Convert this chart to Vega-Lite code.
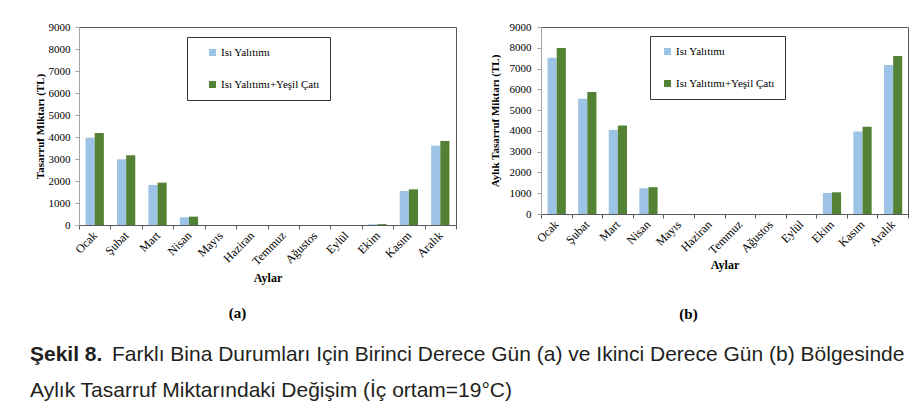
{
  "$schema": "https://vega.github.io/schema/vega-lite/v6.json",
  "padding": {"left": 30, "top": 20, "right": 0, "bottom": 0},
  "autosize": {"type": "pad"},
  "background": "white",
  "config": {
    "font": "Liberation Serif",
    "view": {"stroke": "#595959", "strokeWidth": 1},
    "axis": {"labelFont": "Liberation Serif", "titleFont": "Liberation Serif", "labelColor": "#000", "titleColor": "#000", "grid": false}
  },
  "datasets": {
    "d": [
      {"panel": "a", "month": "Ocak", "series": "Isı Yalıtımı", "value": 3970},
      {"panel": "a", "month": "Ocak", "series": "Isı Yalıtımı+Yeşil Çatı", "value": 4180},
      {"panel": "a", "month": "Şubat", "series": "Isı Yalıtımı", "value": 2985},
      {"panel": "a", "month": "Şubat", "series": "Isı Yalıtımı+Yeşil Çatı", "value": 3170},
      {"panel": "a", "month": "Mart", "series": "Isı Yalıtımı", "value": 1820},
      {"panel": "a", "month": "Mart", "series": "Isı Yalıtımı+Yeşil Çatı", "value": 1925},
      {"panel": "a", "month": "Nisan", "series": "Isı Yalıtımı", "value": 350},
      {"panel": "a", "month": "Nisan", "series": "Isı Yalıtımı+Yeşil Çatı", "value": 380},
      {"panel": "a", "month": "Mayıs", "series": "Isı Yalıtımı", "value": 0},
      {"panel": "a", "month": "Mayıs", "series": "Isı Yalıtımı+Yeşil Çatı", "value": 0},
      {"panel": "a", "month": "Haziran", "series": "Isı Yalıtımı", "value": 0},
      {"panel": "a", "month": "Haziran", "series": "Isı Yalıtımı+Yeşil Çatı", "value": 0},
      {"panel": "a", "month": "Temmuz", "series": "Isı Yalıtımı", "value": 0},
      {"panel": "a", "month": "Temmuz", "series": "Isı Yalıtımı+Yeşil Çatı", "value": 0},
      {"panel": "a", "month": "Ağustos", "series": "Isı Yalıtımı", "value": 0},
      {"panel": "a", "month": "Ağustos", "series": "Isı Yalıtımı+Yeşil Çatı", "value": 0},
      {"panel": "a", "month": "Eylül", "series": "Isı Yalıtımı", "value": 0},
      {"panel": "a", "month": "Eylül", "series": "Isı Yalıtımı+Yeşil Çatı", "value": 0},
      {"panel": "a", "month": "Ekim", "series": "Isı Yalıtımı", "value": 30},
      {"panel": "a", "month": "Ekim", "series": "Isı Yalıtımı+Yeşil Çatı", "value": 40},
      {"panel": "a", "month": "Kasım", "series": "Isı Yalıtımı", "value": 1545},
      {"panel": "a", "month": "Kasım", "series": "Isı Yalıtımı+Yeşil Çatı", "value": 1620},
      {"panel": "a", "month": "Aralık", "series": "Isı Yalıtımı", "value": 3605},
      {"panel": "a", "month": "Aralık", "series": "Isı Yalıtımı+Yeşil Çatı", "value": 3820},
      {"panel": "b", "month": "Ocak", "series": "Isı Yalıtımı", "value": 7520},
      {"panel": "b", "month": "Ocak", "series": "Isı Yalıtımı+Yeşil Çatı", "value": 7990},
      {"panel": "b", "month": "Şubat", "series": "Isı Yalıtımı", "value": 5545},
      {"panel": "b", "month": "Şubat", "series": "Isı Yalıtımı+Yeşil Çatı", "value": 5870},
      {"panel": "b", "month": "Mart", "series": "Isı Yalıtımı", "value": 4050},
      {"panel": "b", "month": "Mart", "series": "Isı Yalıtımı+Yeşil Çatı", "value": 4260},
      {"panel": "b", "month": "Nisan", "series": "Isı Yalıtımı", "value": 1240},
      {"panel": "b", "month": "Nisan", "series": "Isı Yalıtımı+Yeşil Çatı", "value": 1290},
      {"panel": "b", "month": "Mayıs", "series": "Isı Yalıtımı", "value": 0},
      {"panel": "b", "month": "Mayıs", "series": "Isı Yalıtımı+Yeşil Çatı", "value": 0},
      {"panel": "b", "month": "Haziran", "series": "Isı Yalıtımı", "value": 0},
      {"panel": "b", "month": "Haziran", "series": "Isı Yalıtımı+Yeşil Çatı", "value": 0},
      {"panel": "b", "month": "Temmuz", "series": "Isı Yalıtımı", "value": 0},
      {"panel": "b", "month": "Temmuz", "series": "Isı Yalıtımı+Yeşil Çatı", "value": 0},
      {"panel": "b", "month": "Ağustos", "series": "Isı Yalıtımı", "value": 0},
      {"panel": "b", "month": "Ağustos", "series": "Isı Yalıtımı+Yeşil Çatı", "value": 0},
      {"panel": "b", "month": "Eylül", "series": "Isı Yalıtımı", "value": 0},
      {"panel": "b", "month": "Eylül", "series": "Isı Yalıtımı+Yeşil Çatı", "value": 0},
      {"panel": "b", "month": "Ekim", "series": "Isı Yalıtımı", "value": 1010},
      {"panel": "b", "month": "Ekim", "series": "Isı Yalıtımı+Yeşil Çatı", "value": 1045},
      {"panel": "b", "month": "Kasım", "series": "Isı Yalıtımı", "value": 3970},
      {"panel": "b", "month": "Kasım", "series": "Isı Yalıtımı+Yeşil Çatı", "value": 4195},
      {"panel": "b", "month": "Aralık", "series": "Isı Yalıtımı", "value": 7170},
      {"panel": "b", "month": "Aralık", "series": "Isı Yalıtımı+Yeşil Çatı", "value": 7600}
    ]
  },
  "spacing": 20,
  "vconcat": [
    {
      "spacing": 31,
      "resolve": {"scale": {"color": "independent"}, "legend": {"color": "independent"}},
      "hconcat": [
        {
          "width": 377,
          "height": 198,
          "data": {"name": "d"},
          "transform": [{"filter": "datum.panel == 'a'"}],
          "title": {"text": "(a)", "orient": "bottom", "font": "Liberation Serif", "fontSize": 15, "fontWeight": "bold", "color": "#000", "offset": 22, "dx": -30},
          "mark": {"type": "bar"},
          "encoding": {
            "x": {
              "field": "month", "type": "nominal",
              "sort": ["Ocak", "Şubat", "Mart", "Nisan", "Mayıs", "Haziran", "Temmuz", "Ağustos", "Eylül", "Ekim", "Kasım", "Aralık"],
              "scale": {"paddingInner": 0, "paddingOuter": 0},
              "axis": {"title": "Aylar", "labelAngle": -45, "tickBand": "extent", "labelAlign": "right", "labelBaseline": "middle", "labelFontSize": 12, "labelPadding": 4, "tickSize": 4, "domainColor": "#595959", "tickColor": "#595959", "titleFontSize": 12, "titleFontWeight": "bold", "titlePadding": 6}
            },
            "xOffset": {"field": "series", "sort": ["Isı Yalıtımı", "Isı Yalıtımı+Yeşil Çatı"], "scale": {"paddingInner": 0, "paddingOuter": 0.72}},
            "y": {
              "field": "value", "type": "quantitative",
              "scale": {"domain": [0, 9000], "nice": false},
              "axis": {"title": "Tasarruf Miktarı (TL)", "format": "d", "values": [0, 1000, 2000, 3000, 4000, 5000, 6000, 7000, 8000, 9000], "labelFontSize": 11, "labelPadding": 5, "tickSize": 4, "domainColor": "#a6a6a6", "tickColor": "#a6a6a6", "titleFontSize": 11, "titleFontWeight": "bold", "titlePadding": 3}
            },
            "color": {
              "field": "series", "type": "nominal",
              "scale": {"domain": ["Isı Yalıtımı", "Isı Yalıtımı+Yeşil Çatı"], "range": ["#9DC3E6", "#548235"]},
              "legend": {"title": null, "orient": "none", "legendX": 108, "legendY": 10, "strokeColor": "#333", "fillColor": "white", "padding": 10, "symbolOffset": 10, "symbolType": "square", "symbolSize": 50, "symbolStrokeWidth": 0, "labelFont": "Liberation Serif", "labelFontSize": 11, "labelColor": "#000", "rowPadding": 20, "labelOffset": 3}
            }
          }
        },
        {
          "width": 367,
          "height": 187,
          "data": {"name": "d"},
          "transform": [{"filter": "datum.panel == 'b'"}],
          "title": {"text": "(b)", "orient": "bottom", "font": "Liberation Serif", "fontSize": 15, "fontWeight": "bold", "color": "#000", "offset": 36, "dx": -36},
          "mark": {"type": "bar"},
          "encoding": {
            "x": {
              "field": "month", "type": "nominal",
              "sort": ["Ocak", "Şubat", "Mart", "Nisan", "Mayıs", "Haziran", "Temmuz", "Ağustos", "Eylül", "Ekim", "Kasım", "Aralık"],
              "scale": {"paddingInner": 0, "paddingOuter": 0},
              "axis": {"title": "Aylar", "labelAngle": -45, "tickBand": "extent", "labelAlign": "right", "labelBaseline": "middle", "labelFontSize": 12, "labelPadding": 4, "tickSize": 4, "domainColor": "#595959", "tickColor": "#595959", "titleFontSize": 12, "titleFontWeight": "bold", "titlePadding": 4}
            },
            "xOffset": {"field": "series", "sort": ["Isı Yalıtımı", "Isı Yalıtımı+Yeşil Çatı"], "scale": {"paddingInner": 0, "paddingOuter": 0.72}},
            "y": {
              "field": "value", "type": "quantitative",
              "scale": {"domain": [0, 9000], "nice": false},
              "axis": {"title": "Aylık Tasarruf Miktarı (TL)", "format": "d", "values": [0, 1000, 2000, 3000, 4000, 5000, 6000, 7000, 8000, 9000], "labelFontSize": 11, "labelPadding": 6, "tickSize": 4, "domainColor": "#a6a6a6", "tickColor": "#a6a6a6", "titleFontSize": 11, "titleFontWeight": "bold", "titlePadding": 9}
            },
            "color": {
              "field": "series", "type": "nominal",
              "scale": {"domain": ["Isı Yalıtımı", "Isı Yalıtımı+Yeşil Çatı"], "range": ["#9DC3E6", "#548235"]},
              "legend": {"title": null, "orient": "none", "legendX": 109, "legendY": 9, "strokeColor": "#333", "fillColor": "white", "padding": 10, "symbolOffset": 2, "symbolType": "square", "symbolSize": 50, "symbolStrokeWidth": 0, "labelFont": "Liberation Serif", "labelFontSize": 11, "labelColor": "#000", "rowPadding": 20, "labelOffset": 3}
            }
          }
        }
      ]
    },
    {
      "width": 880,
      "height": 60,
      "view": {"stroke": null},
      "layer": [
        {
          "data": {"values": [{"t": "Şekil 8."}]},
          "mark": {"type": "text", "x": -49, "y": 12, "align": "left", "baseline": "middle", "font": "Liberation Sans", "fontSize": 21, "fontWeight": "bold", "color": "#231f20"},
          "encoding": {"text": {"field": "t"}}
        },
        {
          "data": {"values": [{"t": "Farklı Bina Durumları Için Birinci Derece Gün (a) ve Ikinci Derece Gün (b) Bölgesinde"}]},
          "mark": {"type": "text", "x": 33, "y": 12, "align": "left", "baseline": "middle", "font": "Liberation Sans", "fontSize": 21, "color": "#231f20"},
          "encoding": {"text": {"field": "t"}}
        },
        {
          "data": {"values": [{"t": "Aylık Tasarruf Miktarındaki Değişim (İç ortam=19°C)"}]},
          "mark": {"type": "text", "x": -49, "y": 48, "align": "left", "baseline": "middle", "font": "Liberation Sans", "fontSize": 21, "color": "#231f20"},
          "encoding": {"text": {"field": "t"}}
        }
      ]
    }
  ]
}
